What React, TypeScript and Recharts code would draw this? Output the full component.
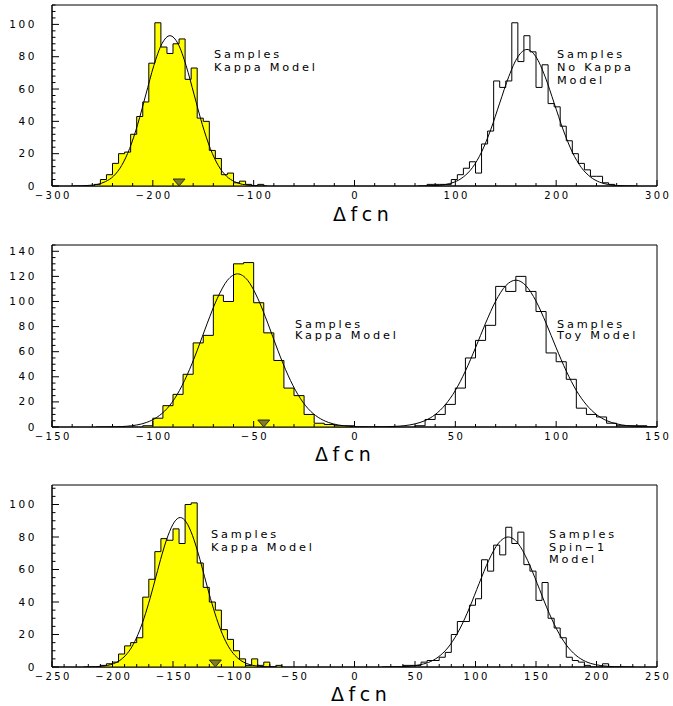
import { ComposedChart, XAxis, YAxis, Area, Line, Scatter, ReferenceArea } from 'recharts';

const FONT = '"DejaVu Sans", sans-serif';

// ---- panel 1: bins of 6 over [-300, 300]
const p1Bin = 6;
const p1KappaLow = -258;
const p1KappaCounts = [1, 4, 7, 14, 20, 21, 32, 43, 52, 76, 101, 86, 82, 88, 91, 66, 73, 42, 40, 22, 17, 7, 8, 2, 3, 1, 0, 1];
const p1NoKappaLow = 72;
const p1NoKappaCounts = [1, 1, 1, 1, 4, 7, 11, 15, 8, 26, 34, 65, 61, 65, 101, 77, 93, 83, 61, 75, 51, 49, 37, 28, 20, 14, 10, 6, 6, 2, 1];
const p1KappaFitStart = -279;
const p1KappaFitStep = 8;
const p1KappaFit = [0, 0.1, 0.4, 1.0, 2.7, 6.1, 12.6, 23.2, 38.2, 56.4, 74.5, 88.0, 93, 88.0, 74.5, 56.4, 38.2, 23.2, 12.6, 6.1, 2.7, 1.0, 0.4, 0.1, 0];
const p1NoKappaFitStart = 63;
const p1NoKappaFitStep = 9;
const p1NoKappaFit = [0, 0.1, 0.3, 0.9, 2.4, 5.6, 11.4, 21.0, 34.7, 51.3, 67.7, 79.9, 84.5, 79.9, 67.7, 51.3, 34.7, 21.0, 11.4, 5.6, 2.4, 0.9, 0.3, 0.1, 0];
const p1Marker = [{ x: -174, y: 0 }];
const p1XTicks = [-300, -200, -100, 0, 100, 200, 300];
const p1YTicks = [0, 20, 40, 60, 80, 100];

// ---- panel 2: bins of 5 over [-150, 150]
const p2Bin = 5;
const p2KappaLow = -105;
const p2KappaCounts = [1, 7, 17, 26, 42, 67, 73, 105, 100, 130, 131, 99, 75, 53, 31, 25, 10, 3, 2, 1, 1];
const p2ToyLow = 30;
const p2ToyCounts = [1, 6, 10, 18, 31, 55, 69, 81, 112, 108, 120, 108, 92, 59, 52, 38, 15, 10, 8, 3, 1, 1, 1];
const p2KappaFitStart = -128;
const p2KappaFitStep = 5;
const p2KappaFit = [0, 0.1, 0.2, 0.6, 1.6, 3.7, 7.7, 14.6, 25.7, 41.4, 61.0, 82.7, 102.6, 116.9, 122, 116.9, 102.6, 82.7, 61.0, 41.4, 25.7, 14.6, 7.7, 3.7, 1.6, 0.6, 0.2, 0.1, 0];
const p2ToyFitStart = 10;
const p2ToyFitStep = 5;
const p2ToyFit = [0.1, 0.2, 0.5, 1.1, 2.5, 5.1, 9.9, 17.7, 29.1, 44.6, 63.1, 82.7, 100.3, 112.6, 117, 112.6, 100.3, 82.7, 63.1, 44.6, 29.1, 17.7, 9.9, 5.1, 2.5, 1.1, 0.5, 0.2, 0.1];
const p2Marker = [{ x: -45, y: 0 }];
const p2XTicks = [-150, -100, -50, 0, 50, 100, 150];
const p2YTicks = [0, 20, 40, 60, 80, 100, 120, 140];

// ---- panel 3: bins of 5 over [-250, 250]
const p3Bin = 5;
const p3KappaLow = -210;
const p3KappaCounts = [1, 2, 3, 8, 13, 15, 18, 43, 54, 71, 79, 78, 85, 76, 100, 101, 64, 49, 40, 35, 23, 17, 10, 5, 1, 5, 1, 3, 0, 1];
const p3SpinLow = 40;
const p3SpinCounts = [1, 1, 1, 3, 4, 4, 6, 9, 20, 28, 28, 38, 42, 66, 59, 75, 69, 86, 76, 83, 63, 59, 41, 52, 30, 24, 18, 6, 4, 3, 1, 0, 0, 2];
const p3KappaFitStart = -224;
const p3KappaFitStep = 5;
const p3KappaFit = [0, 0.1, 0.2, 0.5, 1.0, 2.1, 4.0, 7.3, 12.4, 19.9, 29.9, 42.1, 55.8, 69.5, 81.1, 89.1, 92, 89.1, 81.1, 69.5, 55.8, 42.1, 29.9, 19.9, 12.4, 7.3, 4.0, 2.1, 1.0, 0.5, 0.2, 0.1, 0];
const p3SpinFitStart = 23;
const p3SpinFitStep = 8;
const p3SpinFit = [0, 0.1, 0.2, 0.6, 1.5, 3.4, 7.2, 13.6, 23.4, 36.4, 51.4, 65.7, 76.2, 80, 76.2, 65.7, 51.4, 36.4, 23.4, 13.6, 7.2, 3.4, 1.5, 0.6, 0.2, 0.1, 0];
const p3Marker = [{ x: -115, y: 0 }];
const p3XTicks = [-250, -200, -150, -100, -50, 0, 50, 100, 150, 200, 250];
const p3YTicks = [0, 20, 40, 60, 80, 100];

type Pt = { x: number; y: number };

// step outline: start at 0, one point per bin low edge, close at the last upper edge
function histPoints(low: number, width: number, counts: number[]): Pt[] {
  const pts: Pt[] = [{ x: low, y: 0 }];
  counts.forEach((c, i) => pts.push({ x: low + i * width, y: c }));
  pts.push({ x: low + counts.length * width, y: 0 });
  return pts;
}

function fitPoints(start: number, step: number, values: number[]): Pt[] {
  return values.map((v, i) => ({ x: start + i * step, y: v }));
}

function range(from: number, to: number, step: number) {
  const out: number[] = [];
  for (let v = from; v <= to + 1e-9; v += step) out.push(Math.round(v * 1000) / 1000);
  return out;
}

const fmt = (v: number) => (v < 0 ? '\u2212' + Math.abs(v) : String(v));

function XTick(props: any) {
  const { x, y, payload, majors } = props;
  const major = majors.includes(payload.value);
  return (
    <g>
      <line x1={x} x2={x} y1={y} y2={y - (major ? 6 : 3)} stroke="#000" />
      {major && (
        <text x={x + 1.2} y={y + 12.5} textAnchor="middle" fontFamily={FONT} fontSize={10} letterSpacing={2.4} fill="#000">
          {fmt(payload.value)}
        </text>
      )}
    </g>
  );
}

function YTick(props: any) {
  const { x, y, payload, majors } = props;
  const major = majors.includes(payload.value);
  return (
    <g>
      <line x1={x} x2={x + (major ? 7 : 3.5)} y1={y} y2={y} stroke="#000" />
      {major && (
        <text x={x - 15} y={y + 3.5} textAnchor="end" fontFamily={FONT} fontSize={10.5} letterSpacing={2.6} fill="#000">
          {payload.value}
        </text>
      )}
    </g>
  );
}

function Triangle(props: any) {
  const { cx, cy } = props;
  return (
    <path
      d={`M${cx - 6},${cy - 7} L${cx + 6},${cy - 7} L${cx},${cy} Z`}
      fill="#7d7d28"
      stroke="#2e2e10"
      strokeWidth={1}
    />
  );
}

type PanelProps = {
  xDomain: [number, number];
  yMax: number;
  xMajor: number[];
  xMinorStep: number;
  yMajor: number[];
  yMinorStep: number;
  filled: Pt[];
  open: Pt[];
  filledFit: Pt[];
  openFit: Pt[];
  marker: Pt[];
  leftText: string[];
  rightText: string[];
  leftX: number;
  rightX: number;
  textY: number;
  gap: number;
  titleX: number;
  axisHeight: number;
};

function Panel(p: PanelProps) {
  const xTicks = range(p.xDomain[0], p.xDomain[1], p.xMinorStep);
  const yTicks = range(0, p.yMax, p.yMinorStep);
  const textStyle = { fontFamily: FONT, fontSize: 11.3, letterSpacing: 2.8 };
  return (
    <ComposedChart width={673} height={240} margin={{ top: 5, right: 16, bottom: 0, left: 0 }}>
      <XAxis
        type="number"
        dataKey="x"
        domain={p.xDomain}
        ticks={xTicks}
        interval={0}
        allowDataOverflow
        height={p.axisHeight}
        tickSize={0}
        tickMargin={0}
        tickLine={false}
        axisLine={{ stroke: '#000' }}
        tick={(t: any) => <XTick {...t} majors={p.xMajor} />}
      />
      <YAxis
        type="number"
        dataKey="y"
        domain={[0, p.yMax]}
        ticks={yTicks}
        interval={0}
        allowDataOverflow
        width={52}
        tickSize={0}
        tickMargin={0}
        tickLine={false}
        axisLine={{ stroke: '#000' }}
        tick={(t: any) => <YTick {...t} majors={p.yMajor} />}
      />
      <ReferenceArea x1={p.xDomain[0]} x2={p.xDomain[1]} y1={0} y2={p.yMax} fill="none" stroke="#000" ifOverflow="visible" />
      <Area
        data={p.filled}
        dataKey="y"
        type="stepAfter"
        fill="#ffff00"
        fillOpacity={1}
        stroke="#000"
        strokeWidth={1}
        isAnimationActive={false}
      />
      <Line data={p.open} dataKey="y" type="stepAfter" stroke="#000" strokeWidth={1} dot={false} isAnimationActive={false} />
      <Line data={p.filledFit} dataKey="y" type="monotone" stroke="#000" strokeWidth={1} dot={false} isAnimationActive={false} />
      <Line data={p.openFit} dataKey="y" type="monotone" stroke="#000" strokeWidth={1} dot={false} isAnimationActive={false} />
      <Scatter data={p.marker} dataKey="y" shape={<Triangle />} isAnimationActive={false} />
      {p.leftText.map((s, i) => (
        <text key={'l' + i} x={p.leftX} y={p.textY + i * p.gap} {...textStyle} fill="#000">
          {s}
        </text>
      ))}
      {p.rightText.map((s, i) => (
        <text key={'r' + i} x={p.rightX} y={p.textY + i * p.gap} {...textStyle} fill="#000">
          {s}
        </text>
      ))}
      <text x={p.titleX} y={221} fontFamily={FONT} fontSize={19} letterSpacing={4.5} fill="#000">
        Δfcn
      </text>
    </ComposedChart>
  );
}

export default function App() {
  return (
    <div style={{ position: 'absolute', left: 0, top: 0, width: 673, height: 706, background: '#fff' }}>
      <Panel
        xDomain={[-300, 300]}
        yMax={112}
        xMajor={p1XTicks}
        xMinorStep={20}
        yMajor={p1YTicks}
        yMinorStep={4}
        filled={histPoints(p1KappaLow, p1Bin, p1KappaCounts)}
        open={histPoints(p1NoKappaLow, p1Bin, p1NoKappaCounts)}
        filledFit={fitPoints(p1KappaFitStart, p1KappaFitStep, p1KappaFit)}
        openFit={fitPoints(p1NoKappaFitStart, p1NoKappaFitStep, p1NoKappaFit)}
        marker={p1Marker}
        leftText={['Samples', 'Kappa Model']}
        rightText={['Samples', 'No Kappa', 'Model']}
        leftX={214}
        rightX={557}
        textY={57.5}
        gap={13.3}
        titleX={333}
        axisHeight={54}
      />
      <Panel
        xDomain={[-150, 150]}
        yMax={145}
        xMajor={p2XTicks}
        xMinorStep={10}
        yMajor={p2YTicks}
        yMinorStep={5}
        filled={histPoints(p2KappaLow, p2Bin, p2KappaCounts)}
        open={histPoints(p2ToyLow, p2Bin, p2ToyCounts)}
        filledFit={fitPoints(p2KappaFitStart, p2KappaFitStep, p2KappaFit)}
        openFit={fitPoints(p2ToyFitStart, p2ToyFitStep, p2ToyFit)}
        marker={p2Marker}
        leftText={['Samples', 'Kappa Model']}
        rightText={['Samples', 'Toy Model']}
        leftX={295}
        rightX={557}
        textY={87.7}
        gap={11.6}
        titleX={315}
        axisHeight={53}
      />
      <Panel
        xDomain={[-250, 250]}
        yMax={112}
        xMajor={p3XTicks}
        xMinorStep={10}
        yMajor={p3YTicks}
        yMinorStep={5}
        filled={histPoints(p3KappaLow, p3Bin, p3KappaCounts)}
        open={histPoints(p3SpinLow, p3Bin, p3SpinCounts)}
        filledFit={fitPoints(p3KappaFitStart, p3KappaFitStep, p3KappaFit)}
        openFit={fitPoints(p3SpinFitStart, p3SpinFitStep, p3SpinFit)}
        marker={p3Marker}
        leftText={['Samples', 'Kappa Model']}
        rightText={['Samples', 'Spin\u22121', 'Model']}
        leftX={211}
        rightX={549}
        textY={58.3}
        gap={12.5}
        titleX={331}
        axisHeight={53}
      />
    </div>
  );
}
